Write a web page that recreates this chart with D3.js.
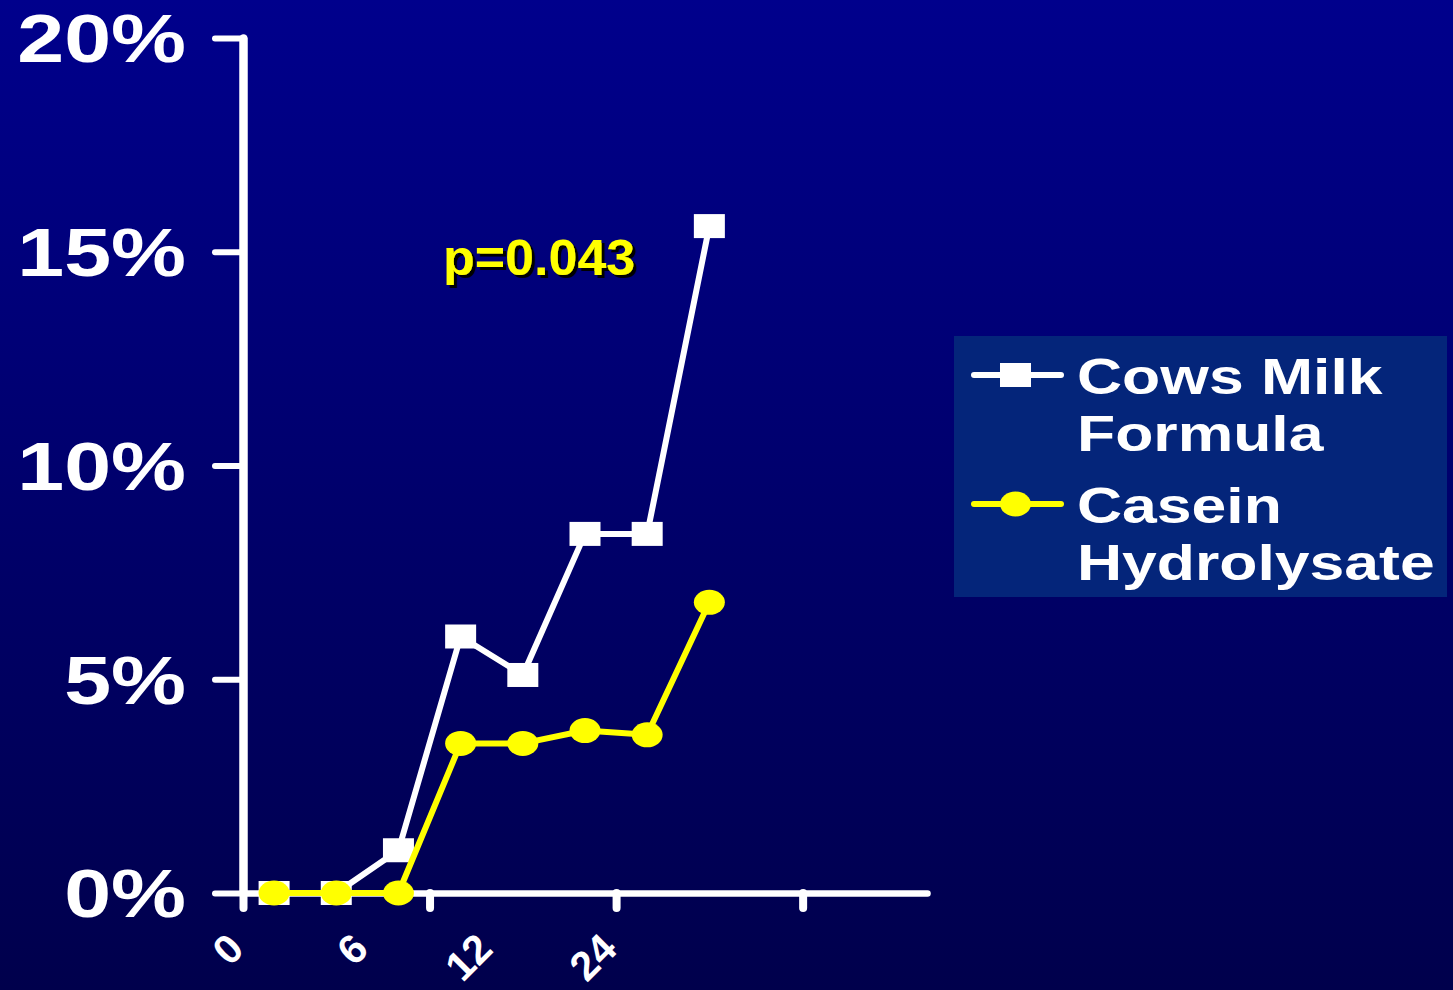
<!DOCTYPE html>
<html>
<head>
<meta charset="utf-8">
<script src="https://cdn.jsdelivr.net/npm/d3@7"></script>
<style>
  html, body { margin: 0; padding: 0; background: #000070; }
  svg { display: block; }
  text { font-family: "Liberation Sans", Arial, sans-serif; font-weight: bold; }
</style>
</head>
<body>
<svg id="chart" width="1453" height="990"></svg>
<script>
// Cumulative incidence by age (months), two formula groups
const slots = [0, 1, 2, 3, 4, 5, 6, 7];
const cowsMilk = [0, 0, 1.0, 6.0, 5.1, 8.4, 8.4, 15.6];
const casein   = [0, 0, 0, 3.5, 3.5, 3.8, 3.7, 6.8];
const yTicks = [0, 5, 10, 15, 20];
const xTickMarks = [0, 3, 6, 9];
const xLabelPos = [0, 2, 4, 6];
const xLabels = ["0", "6", "12", "24"];
const seriesNames = [["Cows Milk", "Formula"], ["Casein", "Hydrolysate"]];
const pLabel = "p=0.043";

const W = 1453, H = 990;
const svg = d3.select("#chart");

// background gradient
const defs = svg.append("defs");
const grad = defs.append("linearGradient").attr("id", "bg")
  .attr("x1", 0).attr("y1", 0).attr("x2", 0).attr("y2", 1);
grad.append("stop").attr("offset", "0%").attr("stop-color", "#00008c");
grad.append("stop").attr("offset", "100%").attr("stop-color", "#00004c");
svg.append("rect").attr("width", W).attr("height", H).attr("fill", "url(#bg)");

const shadow = defs.append("filter").attr("id", "shadow")
  .attr("x", "-10%").attr("y", "-10%").attr("width", "130%").attr("height", "140%");
shadow.append("feDropShadow").attr("dx", 3).attr("dy", 3).attr("stdDeviation", 0.6)
  .attr("flood-color", "#000000").attr("flood-opacity", 1);

const x = d3.scaleLinear().domain([0, 11]).range([243, 927]);
const y = d3.scaleLinear().domain([0, 20]).range([893, 38]);
const xc = i => x(i + 0.5);

// y axis
const yAxis = svg.append("g").attr("transform", `translate(${x(0)},0)`)
  .call(d3.axisLeft(y).tickValues(yTicks).tickSize(28).tickSizeOuter(0).tickFormat(""));
yAxis.select(".domain").attr("stroke", "#fff").attr("stroke-width", 8.5)
  .attr("stroke-linecap", "round");
yAxis.selectAll(".tick line").attr("stroke", "#fff").attr("stroke-width", 6)
  .attr("stroke-linecap", "round");

// x axis
const xAxis = svg.append("g").attr("transform", `translate(0,${y(0)})`)
  .call(d3.axisBottom(x).tickValues(xTickMarks).tickSize(15).tickSizeOuter(0).tickFormat(""));
xAxis.select(".domain").attr("stroke", "#fff").attr("stroke-width", 6.5)
  .attr("stroke-linecap", "round");
xAxis.selectAll(".tick line").attr("stroke", "#fff").attr("stroke-width", 8)
  .attr("stroke-linecap", "round");

// y tick labels
svg.append("g").selectAll("text").data(yTicks).join("text")
  .attr("transform", d => `translate(186,${y(d)}) scale(1.24,1)`)
  .attr("text-anchor", "end").attr("dy", "0.36em")
  .attr("font-size", 68).attr("fill", "#fff")
  .text(d => d + "%");

// x tick labels (rotated)
svg.append("g").selectAll("text").data(xLabelPos).join("text")
  .attr("transform", d => `translate(${x(d) + 3},951) rotate(-45)`)
  .attr("text-anchor", "end")
  .attr("font-size", 41).attr("fill", "#fff")
  .text((d, i) => xLabels[i]);

const line = d3.line().x((d, i) => xc(slots[i])).y(d => y(d));

// cows milk formula: white squares
svg.append("path").datum(cowsMilk).attr("d", line)
  .attr("fill", "none").attr("stroke", "#fff").attr("stroke-width", 6)
  .attr("stroke-linejoin", "round");
svg.append("g").selectAll("rect").data(cowsMilk).join("rect")
  .attr("x", (d, i) => xc(slots[i]) - 15.5).attr("y", d => y(d) - 12)
  .attr("width", 31).attr("height", 24).attr("fill", "#fff");

// casein hydrolysate: yellow circles
svg.append("path").datum(casein).attr("d", line)
  .attr("fill", "none").attr("stroke", "#ffff00").attr("stroke-width", 6)
  .attr("stroke-linejoin", "round");
svg.append("g").selectAll("ellipse").data(casein).join("ellipse")
  .attr("cx", (d, i) => xc(slots[i])).attr("cy", d => y(d))
  .attr("rx", 15.5).attr("ry", 12.5).attr("fill", "#ffff00");

// p-value annotation
svg.append("text")
  .attr("transform", "translate(443,275) scale(1.04,1)")
  .attr("font-size", 50).attr("fill", "#ffff00")
  .attr("filter", "url(#shadow)")
  .text(pLabel);

// legend
const lg = svg.append("g");
lg.append("rect").attr("x", 954).attr("y", 336).attr("width", 493).attr("height", 261)
  .attr("fill", "#04257a");
const legendRows = [
  { color: "#fff", shape: "rect", ly: 375, base: 394 },
  { color: "#ffff00", shape: "ellipse", ly: 504, base: 523 }
];
legendRows.forEach((r, k) => {
  lg.append("line").attr("x1", 974).attr("x2", 1061).attr("y1", r.ly).attr("y2", r.ly)
    .attr("stroke", r.color).attr("stroke-width", 6).attr("stroke-linecap", "round");
  if (r.shape === "rect") {
    lg.append("rect").attr("x", 1000).attr("y", r.ly - 12).attr("width", 31).attr("height", 24)
      .attr("fill", r.color);
  } else {
    lg.append("ellipse").attr("cx", 1015.5).attr("cy", r.ly).attr("rx", 15.5).attr("ry", 12.5)
      .attr("fill", r.color);
  }
  seriesNames[k].forEach((t, j) => {
    lg.append("text")
      .attr("transform", `translate(1077,${r.base + j * 57}) scale(1.25,1)`)
      .attr("font-size", 50).attr("fill", "#fff")
      .text(t);
  });
});
</script>
</body>
</html>
